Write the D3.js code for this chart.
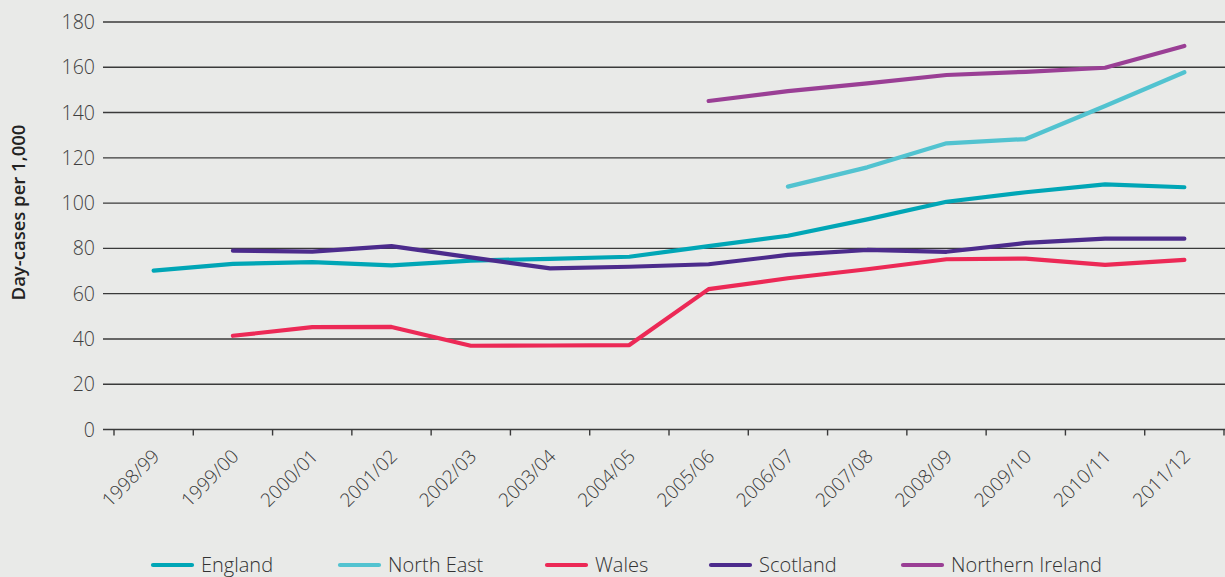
<!DOCTYPE html>
<html>
<head>
<meta charset="utf-8">
<script src="https://cdn.jsdelivr.net/npm/d3@7"></script>
<style>
  html, body { margin: 0; padding: 0; background: #e9eae8; }
  svg { display: block; }
  text { font-family: "Open Sans", "Noto Sans", sans-serif; }
</style>
</head>
<body>
<svg id="chart" width="1225" height="577"></svg>
<script>
const years = ["1998/99","1999/00","2000/01","2001/02","2002/03","2003/04","2004/05",
               "2005/06","2006/07","2007/08","2008/09","2009/10","2010/11","2011/12"];
const yTicks = [0,20,40,60,80,100,120,140,160,180];

const england   = [70.2, 73.2, 73.9, 72.5, 74.6, 75.4, 76.3, 81.0, 85.6, 92.8, 100.6, 104.8, 108.3, 107.0];
const northEast = [null, null, null, null, null, null, null, null, 107.3, 115.8, 126.4, 128.3, 142.9, 157.8];
const wales     = [null, 41.4, 45.2, 45.3, 37.0, 37.1, 37.3, 62.0, 66.8, 70.8, 75.2, 75.5, 72.7, 74.9];
const scotland  = [null, 79.0, 78.6, 81.0, 76.0, 71.2, 71.9, 73.0, 77.1, 79.3, 78.5, 82.4, 84.3, 84.3];
const nIreland  = [null, null, null, null, null, null, null, 145.1, 149.5, 152.9, 156.6, 158.0, 159.8, 169.4];

const seriesNames  = ["England", "North East", "Wales", "Scotland", "Northern Ireland"];
const seriesValues = [england, northEast, wales, scotland, nIreland];
const seriesColors = ["#00a6b6", "#52c3d0", "#ec2956", "#4c2b8c", "#9a3f95"];

const svg = d3.select("#chart");
const W = 1225, H = 577;
svg.append("rect").attr("width", W).attr("height", H).attr("fill", "#e9eae8");

const x = d3.scaleBand().domain(years).range([114, 1224]).paddingInner(0).paddingOuter(0);
const y = d3.scaleLinear().domain([0, 180]).range([429.5, 22]);

// gridlines
svg.append("g").selectAll("line").data(yTicks.filter(d => d > 0)).join("line")
  .attr("x1", 103).attr("x2", W)
  .attr("y1", d => y(d)).attr("y2", d => y(d))
  .attr("stroke", "#3a3a3a").attr("stroke-width", 1.4);

// y labels
svg.append("g").selectAll("text").data(yTicks).join("text")
  .attr("x", 95).attr("y", d => y(d)).attr("dy", "0.36em")
  .attr("text-anchor", "end")
  .attr("font-size", 19.5).attr("font-weight", 300).attr("fill", "#3f3f3f")
  .text(d => d);

// x axis
const xAxisG = svg.append("g").attr("transform", `translate(0,${y(0)})`);
xAxisG.append("line").attr("x1", 103).attr("x2", W).attr("y1", 0).attr("y2", 0)
  .attr("stroke", "#3a3a3a").attr("stroke-width", 1.4);
const boundaries = years.map(d => x(d)).concat([x(years[years.length-1]) + x.bandwidth()]);
xAxisG.selectAll("line.tick").data(boundaries).join("line").attr("class", "tick")
  .attr("x1", d => d).attr("x2", d => d).attr("y1", 0).attr("y2", 6)
  .attr("stroke", "#3a3a3a").attr("stroke-width", 1.4);
xAxisG.selectAll("text").data(years).join("text")
  .attr("transform", d => `translate(${x(d) + x.bandwidth()/2 + 7},${28}) rotate(-45)`)
  .attr("text-anchor", "end")
  .attr("font-size", 19).attr("font-weight", 300).attr("fill", "#3a3a3a")
  .text(d => d);

// y title
svg.append("text")
  .attr("transform", `translate(25,212.5) rotate(-90)`)
  .attr("text-anchor", "middle")
  .attr("font-size", 18.5).attr("font-weight", 600).attr("fill", "#222")
  .text("Day-cases per 1,000");

// lines
const line = d3.line()
  .defined(d => d.v != null)
  .x(d => x(d.k) + x.bandwidth()/2)
  .y(d => y(d.v));

svg.append("g").selectAll("path").data(seriesValues).join("path")
  .attr("d", vals => line(vals.map((v, i) => ({k: years[i], v}))))
  .attr("fill", "none")
  .attr("stroke", (d, i) => seriesColors[i])
  .attr("stroke-width", 4.2)
  .attr("stroke-linecap", "round")
  .attr("stroke-linejoin", "round");

// legend
const legendX = [153, 340, 547, 711, 903];
const lg = svg.append("g").selectAll("g").data(seriesNames).join("g")
  .attr("transform", (d, i) => `translate(${legendX[i]},565)`);
lg.append("line").attr("x1", 0).attr("x2", 39).attr("y1", 0).attr("y2", 0)
  .attr("stroke", (d, i) => seriesColors[i]).attr("stroke-width", 4.2).attr("stroke-linecap", "round");
lg.append("text").attr("x", 48).attr("dy", "0.36em")
  .attr("font-size", 20).attr("font-weight", 300).attr("fill", "#333")
  .text(d => d);
</script>
</body>
</html>
